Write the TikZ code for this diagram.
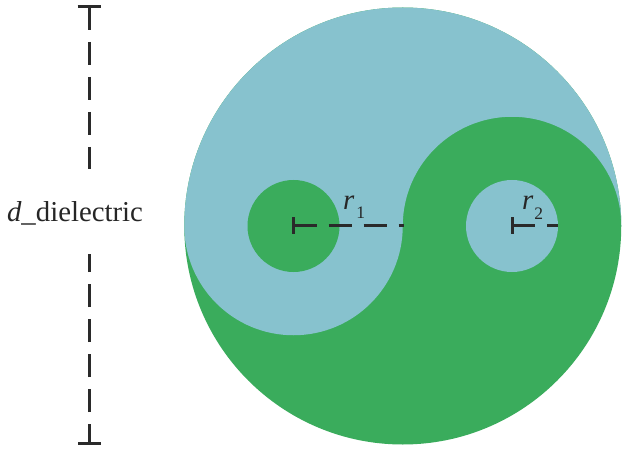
\documentclass[tikz,border=0pt]{standalone}
\usepackage{fontspec}
\setmainfont{Liberation Serif}
\definecolor{dielblue}{HTML}{87C2CE}
\definecolor{dielgreen}{HTML}{3AAC5C}
\definecolor{dimink}{HTML}{2A2A2A}
\tikzset{
  dimline/.style={draw=dimink,line width=3pt,dash pattern=on 23pt off 12pt},
  dimcap/.style={draw=dimink,line width=3pt},
  lbl/.style={inner sep=0pt,outer sep=0pt,anchor=base west,text=black!85},
}
\newcommand{\lblfont}{\fontsize{28.8}{30}\selectfont}
\newcommand{\subfont}{\fontsize{17.5}{18}\selectfont}
\begin{document}
\begin{tikzpicture}[x=1pt,y=1pt]
\useasboundingbox (0,0) rectangle (628,450);
\fill[white] (0,0) rectangle (628,450);
% body
\fill[dielgreen] (402.75,224) circle[radius=218.5pt];
\fill[dielblue] (184.25,224) arc[start angle=180,end angle=0,radius=218.5pt]
  arc[start angle=0,end angle=180,radius=109.25pt]
  arc[start angle=0,end angle=-180,radius=109.25pt] -- cycle;
\fill[dielgreen] (293.5,224) circle[radius=46pt];
\fill[dielblue] (512,224) circle[radius=46pt];
% coordinates
\coordinate (dtop) at (89,443);
\coordinate (dtopend) at (89,281);
\coordinate (dbot) at (89,7);
\coordinate (dbotend) at (89,196);
\coordinate (dtopl) at (77.5,443);
\coordinate (dtopr) at (100.5,443);
\coordinate (dbotl) at (78,7);
\coordinate (dbotr) at (101,7);
\coordinate (ra) at (293.5,224);
\coordinate (raend) at (404,224);
\coordinate (rau) at (293.5,232.5);
\coordinate (rad) at (293.5,215.5);
\coordinate (rb) at (512,224);
\coordinate (rbend) at (558,224);
\coordinate (rbu) at (512,232.5);
\coordinate (rbd) at (512,215.5);
% dimensions
\draw[dimcap] (dtopl) -- (dtopr);
\draw[dimline] (dtop) -- (dtopend);
\draw[dimcap] (dbotl) -- (dbotr);
\draw[dimline,dash phase=4pt] (dbot) -- (dbotend);
\draw[dimcap] (rau) -- (rad);
\draw[dimline] (ra) -- (raend);
\draw[dimcap] (rbu) -- (rbd);
\draw[dimline] (rb) -- (rbend);
% labels
\node[lbl] (dlabel) at (7,228) {\lblfont\textit{d}\_dielectric};
\node[lbl] (r1label) at (343,240) {\lblfont\textit{r}\kern2pt\raisebox{-9pt}{\subfont 1}};
\node[lbl] (r2label) at (522,240) {\lblfont\textit{r}\kern1pt\raisebox{-10pt}{\subfont 2}};
\end{tikzpicture}
\end{document}
